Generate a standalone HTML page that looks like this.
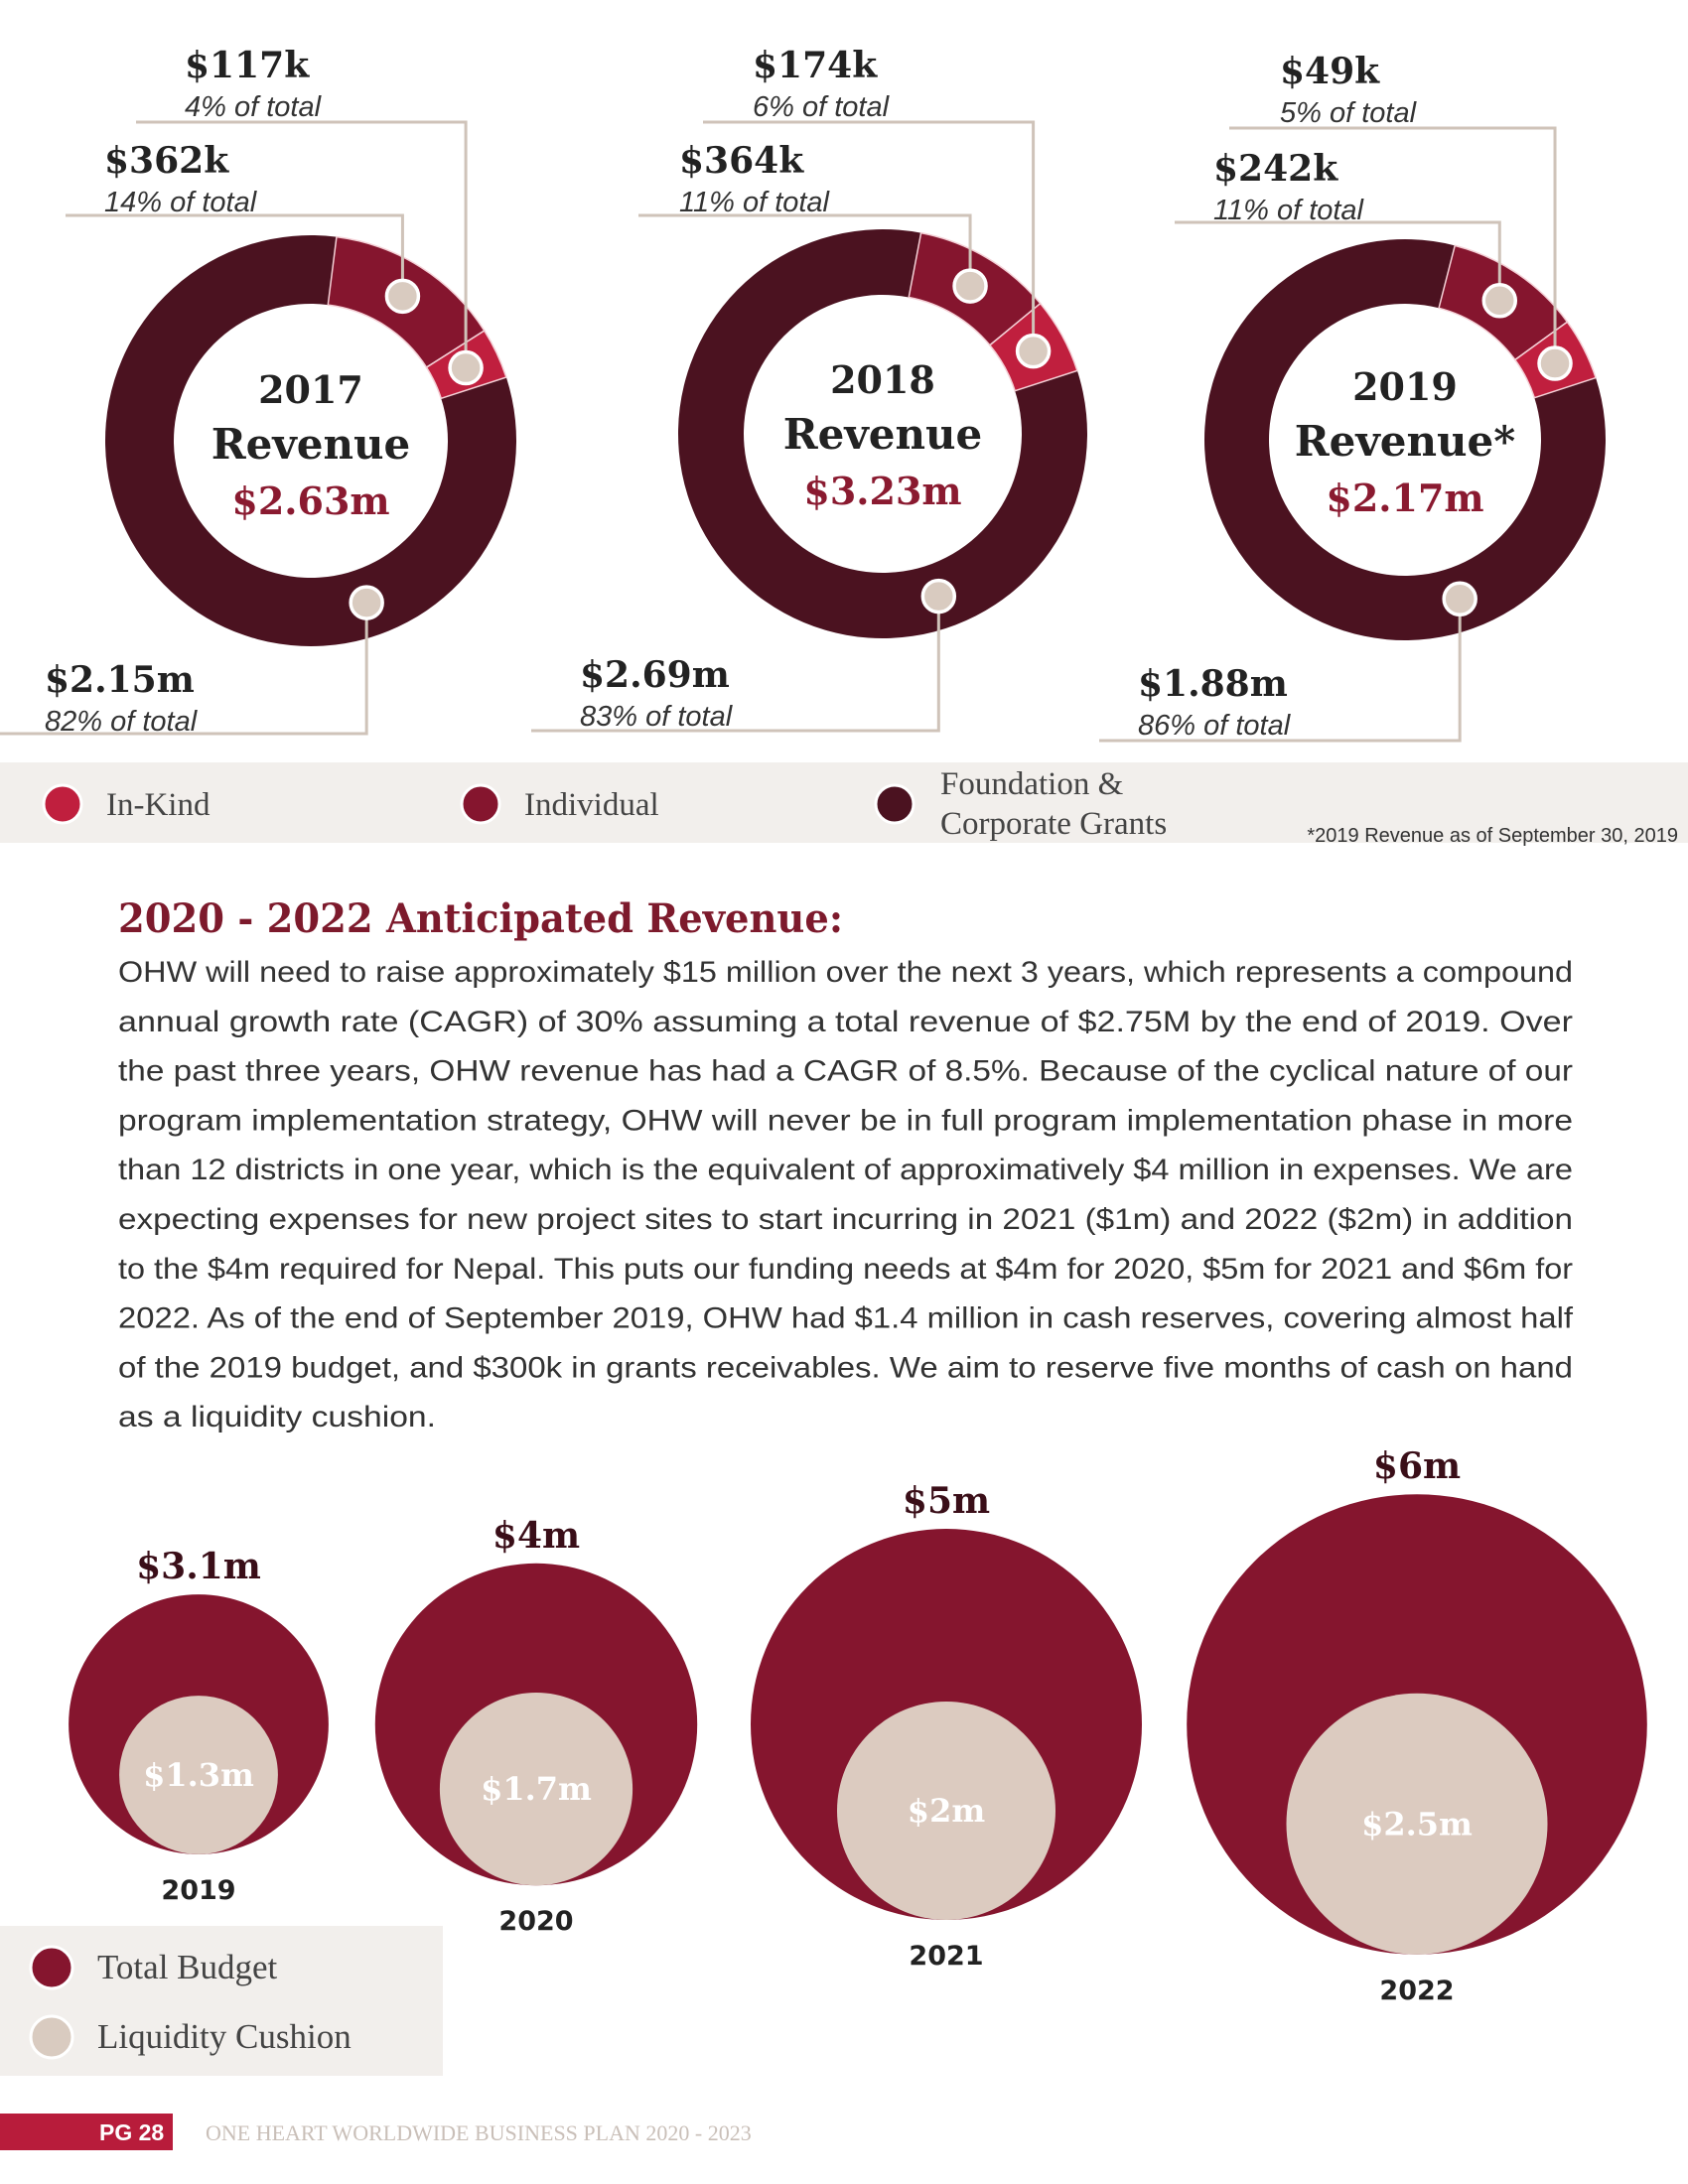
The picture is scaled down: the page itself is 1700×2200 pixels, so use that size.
<!DOCTYPE html>
<html><head><meta charset="utf-8"><style>
html,body{margin:0;padding:0;background:#fff}
svg{display:block}
.num{font-family:"DejaVu Serif","Liberation Serif",serif;font-weight:bold}
.pct{font-family:"Liberation Sans",sans-serif;font-style:italic;fill:#333}
.ser{font-family:"Liberation Serif",serif;fill:#444}
.body{font-family:"Liberation Sans",sans-serif;fill:#333;font-size:30px}
</style></head><body>
<svg id="page" width="1700" height="2200" viewBox="0 0 1700 2200" xmlns="http://www.w3.org/2000/svg">
<g id="donuts"></g>
<rect x="0" y="768" width="1700" height="81" fill="#f2efec"/>
<g><circle cx="63" cy="810" r="19" fill="#c01f3e" stroke="#fff" stroke-width="3"/><text class="ser" x="107" y="821" font-size="33">In-Kind</text></g>
<g><circle cx="484" cy="810" r="19" fill="#85152e" stroke="#fff" stroke-width="3"/><text class="ser" x="528" y="821" font-size="33">Individual</text></g>
<g><circle cx="901" cy="810" r="19" fill="#4b1220" stroke="#fff" stroke-width="3"/><text class="ser" x="947" y="800" font-size="33">Foundation &amp;</text><text class="ser" x="947" y="840" font-size="33">Corporate Grants</text></g>
<text x="1690" y="848" text-anchor="end" font-family="Liberation Sans, sans-serif" font-size="20" fill="#333">*2019 Revenue as of September 30, 2019</text>
<text class="num" x="119" y="939" font-size="40" fill="#7d1a2c" textLength="730" lengthAdjust="spacingAndGlyphs">2020 - 2022 Anticipated Revenue:</text>
<g id="para"></g>
<g id="bubbles"></g>
<rect x="0" y="1940" width="446" height="151" fill="#f2efec"/>
<g><circle cx="52" cy="1982" r="21" fill="#85152e" stroke="#fff" stroke-width="3"/><text class="ser" x="98" y="1993" font-size="35">Total Budget</text></g>
<g><circle cx="52" cy="2052" r="21" fill="#d9cbc0" stroke="#fff" stroke-width="3"/><text class="ser" x="98" y="2063" font-size="35">Liquidity Cushion</text></g>
<rect x="0" y="2129" width="174" height="37" fill="#b81c3b"/>
<text x="100" y="2156" font-family="Liberation Sans, sans-serif" font-weight="bold" font-size="23" fill="#fff">PG 28</text>
<text x="207" y="2156" font-family="Liberation Serif, serif" font-size="22" fill="#c9bfb8">ONE HEART WORLDWIDE BUSINESS PLAN 2020 - 2023</text>
</svg>
<script>
const NS='http://www.w3.org/2000/svg';
// donut data
const donutYears=['2017','2018','2019'];
const donutTotals=['$2.63m','$3.23m','$2.17m'];
const individualPct=[14,11,11];
const inKindPct=[4,6,5];
const grantsPct=[82,83,86];
const individualLabel=['$362k','$364k','$242k'];
const inKindLabel=['$117k','$174k','$49k'];
const grantsLabel=['$2.15m','$2.69m','$1.88m'];
// bubble data
const bubbleYears=['2019','2020','2021','2022'];
const budgetValues=[3.1,4,5,6];
const cushionValues=[1.3,1.7,2,2.5];
const budgetLabels=['$3.1m','$4m','$5m','$6m'];
const cushionLabels=['$1.3m','$1.7m','$2m','$2.5m'];

function mk(tag,attrs,parent){const e=document.createElementNS(NS,tag);for(const k in attrs)e.setAttribute(k,attrs[k]);parent.appendChild(e);return e;}
function pt(cx,cy,r,a){const t=(a-90)*Math.PI/180;return[cx+r*Math.cos(t),cy+r*Math.sin(t)];}
function arc(cx,cy,ro,ri,a0,a1){const l=(a1-a0)>180?1:0;const p1=pt(cx,cy,ro,a0),p2=pt(cx,cy,ro,a1),p3=pt(cx,cy,ri,a1),p4=pt(cx,cy,ri,a0);
return `M${p1}A${ro},${ro} 0 ${l} 1 ${p2}L${p3}A${ri},${ri} 0 ${l} 0 ${p4}Z`;}
const pctAngle=p=>p*3.6;

const dG=document.getElementById('donuts');
const dCx=[313,889,1415],dCy=[444,437,443],dRo=[207,206,202],dRi=[138,140,137];
const labX=[[105,186,45],[684,758,584],[1222,1289,1146]];
const labY=[[174,78,697],[174,78,692],[182,84,701]];
const lineY=[[217,123,739],[217,123,736],[224,129,746]];
const lineX0=[[66,137,0],[643,708,535],[1183,1238,1107]];
const centerY=[[406,462,518],[396,452,508],[403,459,515]];
const endAngle=72;
for(let i=0;i<3;i++){
  const g=mk('g',{},dG);
  
  
  const cx=dCx[i],cy=dCy[i],ro=dRo[i],ri=dRi[i],rm=(ro+ri)/2;
  const ink1=endAngle,ink0=ink1-pctAngle(inKindPct[i]),ind0=ink0-pctAngle(individualPct[i]);
  const grEnd=ind0+360-0.01;
  const sg=mk('path',{d:arc(cx,cy,ro,ri,ink1,Math.min(grEnd,ink1+pctAngle(grantsPct[i]))),fill:'#4b1220'},g);
  
  
  const si=mk('path',{d:arc(cx,cy,ro,ri,ind0,ink0),fill:'#85152e',stroke:'#f4d0d6','stroke-width':1.5},g);
  
  
  const sk=mk('path',{d:arc(cx,cy,ro,ri,ink0,ink1),fill:'#c01f3e',stroke:'#f4d0d6','stroke-width':1.5},g);
  
  
  const dots=[pt(cx,cy,rm,(ind0+ink0)/2),pt(cx,cy,rm,(ink0+ink1)/2),pt(cx,cy,rm,161)];
  const big=[individualLabel[i],inKindLabel[i],grantsLabel[i]];
  const small=[individualPct[i]+'% of total',inKindPct[i]+'% of total',grantsPct[i]+'% of total'];
  const names=['individual','in-kind','grants'];
  for(let k=0;k<3;k++){
    const [dx,dy]=dots[k];
    const ln=mk('polyline',{points:`${lineX0[i][k]},${lineY[i][k]} ${dx},${lineY[i][k]} ${dx},${dy}`,fill:'none',stroke:'#cfc3b9','stroke-width':3},g);
    
    
    const c=mk('circle',{cx:dx,cy:dy,r:16,fill:'#d9cbc0',stroke:'#fff','stroke-width':3.5},g);
    
    
    const t=mk('text',{x:labX[i][k],y:labY[i][k],'font-size':36,fill:'#222',class:'num'},g);
    t.textContent=big[k];
    
    
    const p=mk('text',{x:labX[i][k],y:labY[i][k]+39,'font-size':29,class:'pct'},g);
    p.textContent=small[k];
    
    
  }
  const tt=['year','revenue','total'];
  const txt=[donutYears[i],i==2?'Revenue*':'Revenue',donutTotals[i]];
  const fs=[38,42,38];
  for(let k=0;k<3;k++){
    const t=mk('text',{x:cx,y:centerY[i][k],'text-anchor':'middle','font-size':fs[k],fill:k==2?'#8a1a30':'#222',class:'num'},g);
    t.textContent=txt[k];
    
    
  }
}

// paragraph
const lines=["OHW will need to raise approximately $15 million over the next 3 years, which represents a compound",
"annual growth rate (CAGR) of 30% assuming a total revenue of $2.75M by the end of 2019. Over",
"the past three years, OHW revenue has had a CAGR of 8.5%. Because of the cyclical nature of our",
"program implementation strategy, OHW will never be in full program implementation phase in more",
"than 12 districts in one year, which is the equivalent of approximatively $4 million in expenses. We are",
"expecting expenses for new project sites to start incurring in 2021 ($1m) and 2022 ($2m) in addition",
"to the $4m required for Nepal. This puts our funding needs at $4m for 2020, $5m for 2021 and $6m for",
"2022. As of the end of September 2019, OHW had $1.4 million in cash reserves, covering almost half",
"of the 2019 budget, and $300k in grants receivables. We aim to reserve five months of cash on hand",
"as a liquidity cushion."];
const pg=document.getElementById('para');
lines.forEach((s,i)=>{
  const a={x:119,y:989+i*49.8,class:'body'};
  a.textLength=(i<lines.length-1)?1465:320;a.lengthAdjust='spacingAndGlyphs';
  const t=mk('text',a,pg);
  t.textContent=s;
  
  
});

// bubbles
const bG=document.getElementById('bubbles');
const bx=[200,540,953,1427], baseCy=1737;
const rOuter=v=>23+34.8*v;
const rInner=v=>24+43*v;
bubbleYears.forEach((y,i)=>{
  const g=mk('g',{},bG);
  
  
  const R=rOuter(budgetValues[i]), r=rInner(cushionValues[i]);
  const o=mk('circle',{cx:bx[i],cy:baseCy,r:R,fill:'#85152e'},g);
  
  
  const icy=baseCy+R-r;
  const c=mk('circle',{cx:bx[i],cy:icy,r:r,fill:'#dccbc0'},g);
  
  
  const bl=mk('text',{x:bx[i],y:baseCy-R-16,'text-anchor':'middle','font-size':36,fill:'#3a0e18',class:'num'},g);
  bl.textContent=budgetLabels[i];
  
  
  const cl=mk('text',{x:bx[i],y:icy+11,'text-anchor':'middle','font-size':32,fill:'#fff',class:'num'},g);
  cl.textContent=cushionLabels[i];
  
  
  const yl=mk('text',{x:bx[i],y:baseCy+R+45,'text-anchor':'middle','font-size':27,'font-weight':'bold','font-family':'DejaVu Sans, sans-serif',fill:'#222'},g);
  yl.textContent=y;
  
  
});
</script>
</body></html>
